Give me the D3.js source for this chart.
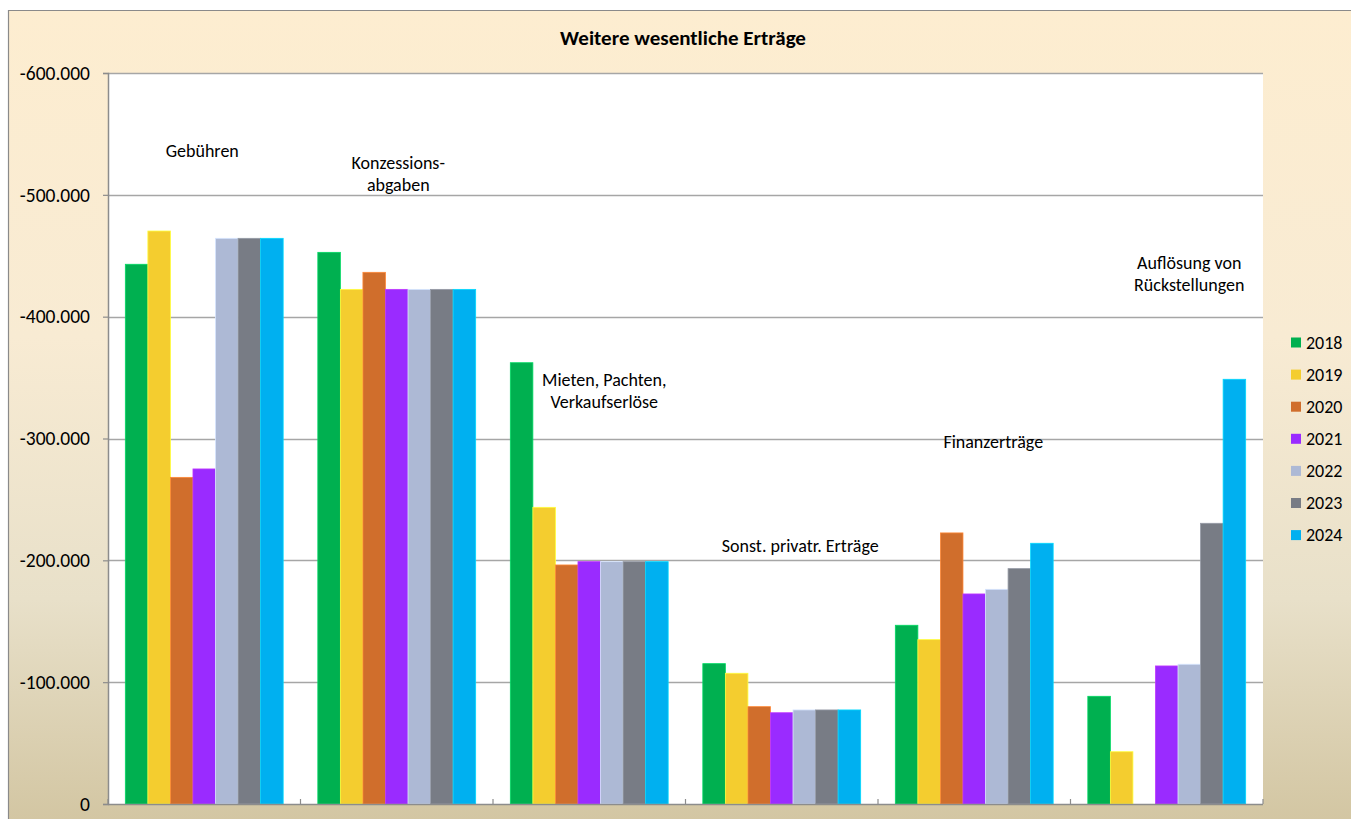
<!DOCTYPE html>
<html><head><meta charset="utf-8">
<script src="https://cdn.jsdelivr.net/npm/d3@7"></script>
<style>
html,body{margin:0;padding:0;background:#fff;overflow:hidden}
text{font-family:Carlito,Calibri,"Open Sans","Noto Sans",sans-serif;fill:#000}
</style></head>
<body>
<svg id="chart" width="1351" height="819"></svg>
<script>
const categories = ["Gebühren","Konzessionsabgaben","Mieten, Pachten, Verkaufserlöse","Sonst. privatr. Erträge","Finanzerträge","Auflösung von Rückstellungen"];
const categoryLabels = [["Gebühren"],["Konzessions-","abgaben"],["Mieten, Pachten,","Verkaufserlöse"],["Sonst. privatr. Erträge"],["Finanzerträge"],["Auflösung von","Rückstellungen"]];
const years = ["2018","2019","2020","2021","2022","2023","2024"];
const v2018 = [-443000,-452800,-362200,-115200,-146700,-88400];
const v2019 = [-470300,-422400,-243500,-107300,-134900,-42900];
const v2020 = [-268100,-436400,-196200,-79900,-222500,0];
const v2021 = [-275000,-422400,-198900,-74900,-172400,-113300];
const v2022 = [-464300,-422400,-198900,-77200,-176200,-114700];
const v2023 = [-464300,-422400,-198900,-77200,-193200,-230400];
const v2024 = [-464300,-422400,-198900,-77200,-214000,-348600];
const seriesValues = [v2018,v2019,v2020,v2021,v2022,v2023,v2024];
const colors = ["#00B050","#F4CD2F","#D06E2C","#9A2BFF","#ADB9D5","#787C85","#00B0F0"];
const yTicks = [0,-100000,-200000,-300000,-400000,-500000,-600000];
const title = "Weitere wesentliche Erträge";

// label layout: [x offset from band centre, centre y of first line]
const labelLayout = [[-2,151],[1.5,163],[15,380],[18.5,546],[19,442],[22.5,263]];

const svg = d3.select("#chart");
const W = 1351, H = 819;
const plot = {left:108, right:1263, top:73, bottom:804};
const FONT = 'Carlito,Calibri,"Open Sans",sans-serif';

// background gradient
const defs = svg.append("defs");
const grad = defs.append("linearGradient").attr("id","bg").attr("x1",0).attr("y1",0).attr("x2",0).attr("y2",1);
[[0,"#FDEDD0"],[0.4,"#F8EBD3"],[0.72,"#E8E0C9"],[1,"#D2C5A1"]].forEach(s=>grad.append("stop").attr("offset",s[0]).attr("stop-color",s[1]));
svg.append("rect").attr("x",8).attr("y",10).attr("width",W).attr("height",H).attr("fill","url(#bg)");
svg.append("path").attr("d",`M8.5,${H}V10.5H${W}`).attr("fill","none").attr("stroke","#8a8a8a").attr("stroke-width",1.2);

// plot area
svg.append("rect").attr("x",plot.left).attr("y",plot.top).attr("width",plot.right-plot.left).attr("height",plot.bottom-plot.top).attr("fill","#fff");

const y = d3.scaleLinear().domain([0,-600000]).range([plot.bottom,plot.top]);
const x0 = d3.scaleBand().domain(categories).range([plot.left,plot.right]).paddingInner(0).paddingOuter(0);
const bw = x0.bandwidth();
const x1 = d3.scaleBand().domain(years).range([bw*0.09, bw*0.91]).padding(0);

const loc = d3.formatLocale({decimal:",",thousands:".",grouping:[3],currency:["","€"],minus:"-"});
const fmt = loc.format(",d");

// gridlines
svg.append("g").selectAll("line").data(yTicks.filter(t=>t!==0)).join("line")
  .attr("x1",plot.left).attr("x2",plot.right)
  .attr("y1",d=>Math.round(y(d))+0.5).attr("y2",d=>Math.round(y(d))+0.5)
  .attr("stroke","#a6a6a6").attr("stroke-width",1.5);

// bars
const gBars = svg.append("g");
categories.forEach((c,ci)=>{
  years.forEach((yr,si)=>{
    const v = seriesValues[si][ci];
    if (!v) return;
    const top = y(v), base = y(0);
    gBars.append("rect")
      .attr("x",x0(c)+x1(yr)).attr("y",top)
      .attr("width",x1.bandwidth()).attr("height",base-top)
      .attr("fill",colors[si])
      .attr("stroke",d3.color(colors[si]).brighter(0.6)).attr("stroke-width",0.8);
  });
});

// y axis
const yAxis = d3.axisLeft(y).tickValues(yTicks).tickFormat(fmt).tickSize(5).tickPadding(13);
const gy = svg.append("g").attr("transform",`translate(${plot.left},0)`).call(yAxis);
gy.select(".domain").attr("stroke","#8c8c8c").attr("stroke-width",1.5);
gy.selectAll(".tick line").attr("stroke","#8c8c8c").attr("stroke-width",1.2);
gy.selectAll(".tick text").attr("font-size",19.5).attr("font-family",FONT).attr("fill","#000");

// x axis (no labels, ticks at boundaries pointing up)
const gx = svg.append("g");
gx.append("line").attr("x1",plot.left).attr("x2",plot.right).attr("y1",plot.bottom+0.5).attr("y2",plot.bottom+0.5).attr("stroke","#8c8c8c").attr("stroke-width",1.5);
const bounds = categories.map(c=>x0(c)).concat([plot.right]);
gx.selectAll(".bt").data(bounds).join("line")
  .attr("x1",d=>d).attr("x2",d=>d).attr("y1",plot.bottom-5).attr("y2",plot.bottom)
  .attr("stroke","#8c8c8c").attr("stroke-width",1.2);

// category labels
const gl = svg.append("g");
categories.forEach((c,ci)=>{
  const cx = x0(c)+bw/2 + labelLayout[ci][0];
  const t = gl.append("text").attr("text-anchor","middle").attr("font-size",18)
    .attr("x",cx).attr("y",labelLayout[ci][1]+6);
  categoryLabels[ci].forEach((line,li)=>{
    t.append("tspan").attr("x",cx).attr("dy",li===0?0:22).text(line);
  });
});

// title
svg.append("text").attr("x",683).attr("y",45).attr("text-anchor","middle")
  .attr("font-size",21).attr("font-weight","bold").text(title);

// legend
const lg = svg.append("g");
years.forEach((yr,i)=>{
  const yy = 342.5 + i*32.1;
  lg.append("rect").attr("x",1291).attr("y",yy-5).attr("width",10).attr("height",10).attr("fill",colors[i]);
  lg.append("text").attr("x",1306).attr("y",yy+6).attr("font-size",18).text(yr);
});
</script>
</body></html>
